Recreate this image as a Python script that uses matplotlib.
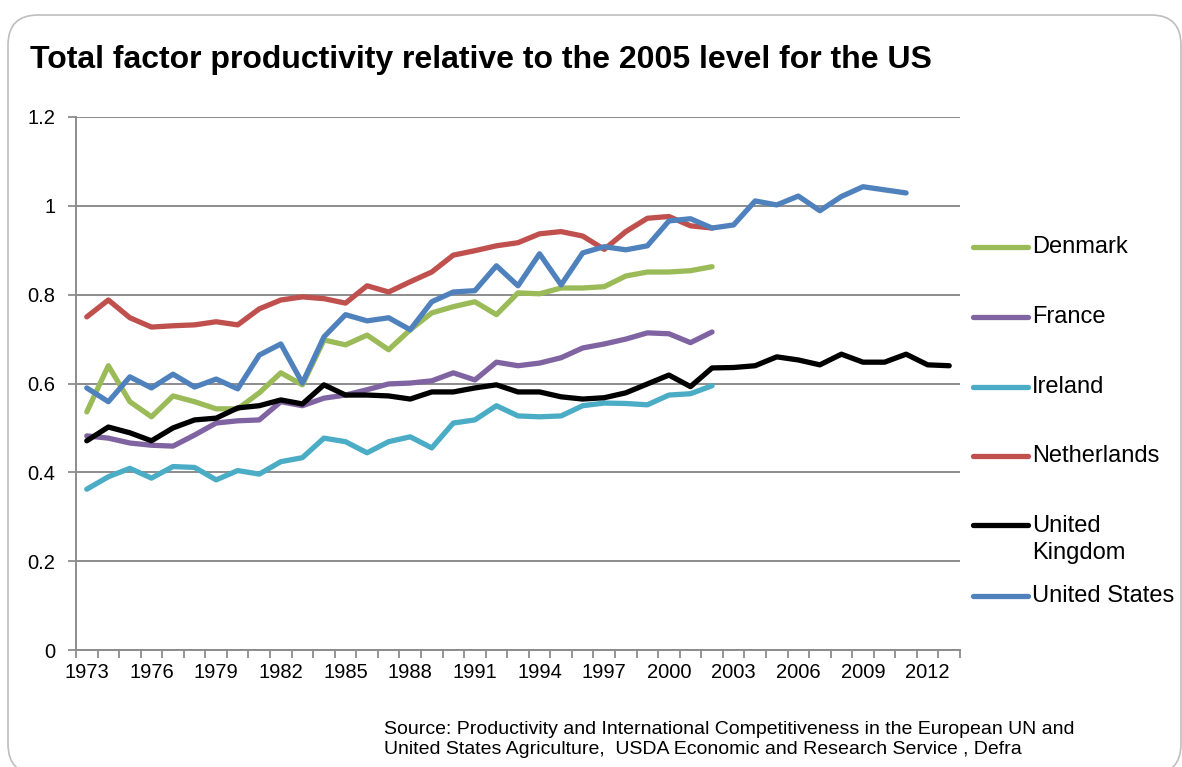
import numpy as np
import matplotlib.pyplot as plt
from matplotlib.patches import FancyBboxPatch
from matplotlib.lines import Line2D
from matplotlib.transforms import IdentityTransform

plt.rcParams['font.family'] = ['Liberation Sans', 'DejaVu Sans']

# data
years = list(range(1973, 2014))

denmark = [0.536, 0.640, 0.559, 0.525, 0.572, 0.559, 0.543, 0.543, 0.579, 0.624,
           0.597, 0.698, 0.687, 0.709, 0.676, 0.721, 0.759, 0.773, 0.784, 0.755,
           0.804, 0.802, 0.815, 0.815, 0.818, 0.842, 0.851, 0.851, 0.854, 0.863]
france = [0.482, 0.477, 0.466, 0.461, 0.459, 0.484, 0.511, 0.516, 0.518, 0.559,
          0.550, 0.567, 0.574, 0.586, 0.599, 0.601, 0.606, 0.624, 0.608, 0.648,
          0.640, 0.646, 0.658, 0.680, 0.689, 0.700, 0.714, 0.712, 0.692, 0.716]
ireland = [0.362, 0.390, 0.409, 0.387, 0.413, 0.411, 0.383, 0.404, 0.396, 0.424,
           0.433, 0.477, 0.469, 0.444, 0.469, 0.480, 0.455, 0.511, 0.518, 0.550,
           0.527, 0.525, 0.527, 0.550, 0.556, 0.555, 0.552, 0.574, 0.577, 0.595]
netherlands = [0.750, 0.788, 0.748, 0.727, 0.730, 0.732, 0.739, 0.732, 0.768, 0.788,
               0.795, 0.791, 0.781, 0.820, 0.806, 0.829, 0.851, 0.889, 0.899, 0.910,
               0.917, 0.937, 0.942, 0.932, 0.902, 0.942, 0.972, 0.976, 0.955, 0.950]
uk = [0.471, 0.502, 0.489, 0.471, 0.500, 0.518, 0.522, 0.545, 0.550, 0.563,
      0.554, 0.597, 0.574, 0.574, 0.572, 0.565, 0.581, 0.581, 0.590, 0.597,
      0.581, 0.581, 0.570, 0.565, 0.568, 0.579, 0.599, 0.619, 0.593, 0.635,
      0.636, 0.640, 0.660, 0.653, 0.642, 0.666, 0.648, 0.648, 0.666, 0.642, 0.640]
us = [0.590, 0.559, 0.615, 0.590, 0.621, 0.592, 0.610, 0.588, 0.664, 0.689,
      0.601, 0.705, 0.755, 0.741, 0.748, 0.721, 0.784, 0.806, 0.809, 0.865,
      0.820, 0.892, 0.822, 0.894, 0.908, 0.901, 0.910, 0.966, 0.971, 0.950,
      0.957, 1.011, 1.002, 1.022, 0.989, 1.021, 1.043, 1.036, 1.029]

series = [
    ('Denmark', denmark, '#9BBB59'),
    ('France', france, '#8064A2'),
    ('Ireland', ireland, '#4BACC6'),
    ('Netherlands', netherlands, '#C0504D'),
    ('United\nKingdom', uk, '#000000'),
    ('United States', us, '#4F81BD'),
]

fig = plt.figure(figsize=(11.82, 7.67), dpi=100)
ax = fig.add_axes([76 / 1182, 1 - 650 / 767, (960 - 76) / 1182, (650 - 117) / 767])

# rounded outer frame
frame = FancyBboxPatch((8, -7), 1173, 759, boxstyle='round,pad=0,rounding_size=30',
                       transform=IdentityTransform(), facecolor='none',
                       edgecolor='#BEBEBE', linewidth=1.2)
fig.patches.append(frame)

x = np.arange(len(years))
for name, vals, col in series:
    ax.plot(x[:len(vals)], vals, color=col, linewidth=3.8,
            solid_capstyle='round', solid_joinstyle='round', zorder=3)

grid_col = '#8C8C8C'
ax.set_xlim(-0.5, len(years) - 0.5)
ax.set_ylim(0, 1.2)
ax.set_yticks(np.arange(0, 1.21, 0.2))
ax.set_yticklabels(['0', '0.2', '0.4', '0.6', '0.8', '1', '1.2'])
ax.yaxis.grid(True, color=grid_col, linewidth=1.4)
ax.set_axisbelow(True)

label_idx = list(range(0, len(years), 3))
ax.set_xticks(label_idx)
ax.set_xticklabels([str(years[i]) for i in label_idx])
ax.set_xticks(np.arange(-0.5, len(years), 1), minor=True)
ax.tick_params(axis='x', which='major', length=0, pad=9, labelsize=14.5)
ax.tick_params(axis='x', which='minor', length=6, width=1.3, color=grid_col)
ax.tick_params(axis='y', length=6, width=1.3, color=grid_col, pad=9, labelsize=14.5)

for side in ['top', 'right']:
    ax.spines[side].set_visible(False)
for side in ['left', 'bottom']:
    ax.spines[side].set_color(grid_col)
    ax.spines[side].set_linewidth(1.4)

# legend drawn at the right, like the original
legend_y = [247, 317, 387, 456, 525, 596]
for (name, vals, col), ly in zip(series, legend_y):
    fy = 1 - ly / 767
    fig.add_artist(Line2D([973 / 1182, 1028 / 1182], [fy, fy], color=col,
                          linewidth=3.8, solid_capstyle='round'))
    if '\n' in name:
        fig.text(1032 / 1182, fy + 10 / 767, name, fontsize=17, va='top',
                 ha='left', linespacing=1.3)
    else:
        fig.text(1032 / 1182, fy, name, fontsize=17, va='center', ha='left')

fig.text(30 / 1182, 1 - 68 / 767, 'Total factor productivity relative to the 2005 level for the US',
         fontsize=23, fontweight='bold', ha='left', va='baseline')

fig.text(384 / 1182, 1 - 734 / 767,
         'Source: Productivity and International Competitiveness in the European UN and',
         fontsize=14, ha='left', va='baseline')
fig.text(384 / 1182, 1 - 754 / 767,
         'United States Agriculture,  USDA Economic and Research Service , Defra',
         fontsize=14, ha='left', va='baseline')

plt.savefig('out.png', dpi=100)
